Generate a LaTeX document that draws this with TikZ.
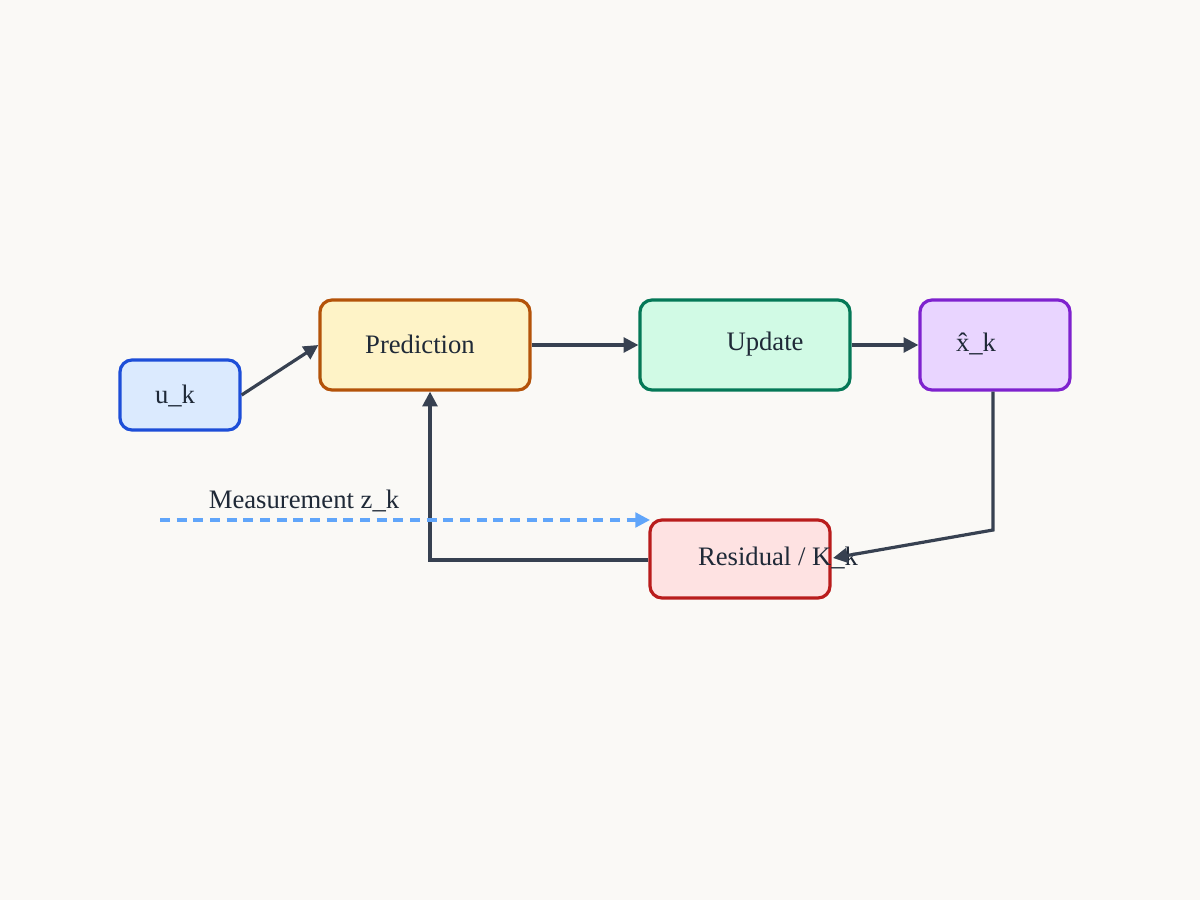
\documentclass[tikz,border=0pt]{standalone}
\usepackage{fontspec}
\setmainfont{Liberation Serif}
\usetikzlibrary{arrows.meta, positioning}
\definecolor{bgcol}{HTML}{FAF9F6}
\definecolor{linecol}{HTML}{374151}
\definecolor{textcol}{HTML}{1F2937}
\definecolor{meascol}{HTML}{60A5FA}
\definecolor{inDraw}{HTML}{1D4ED8}\definecolor{inFill}{HTML}{DBEAFE}
\definecolor{prDraw}{HTML}{B45309}\definecolor{prFill}{HTML}{FEF3C7}
\definecolor{upDraw}{HTML}{047857}\definecolor{upFill}{HTML}{D1FAE5}
\definecolor{esDraw}{HTML}{7E22CE}\definecolor{esFill}{HTML}{E9D5FF}
\definecolor{reDraw}{HTML}{B91C1C}\definecolor{reFill}{HTML}{FEE2E2}
\tikzset{
	box/.style = {rectangle, rounded corners=9pt, line width=2.4pt, inner sep=0pt},
	lbl/.style = {font=\fontsize{20}{24}\selectfont, text=textcol, inner sep=0pt},
	arrow/.style = {line width=2.4pt, draw=linecol, -{Triangle[length=11pt, width=11pt]}},
}
\begin{document}
\begin{tikzpicture}[x=0.75pt, y=-0.75pt]
	\fill[bgcol] (0,0) rectangle (1200,900);
	\useasboundingbox (0,0) rectangle (1200,900);
	% boxes
	\node (Input) [box, draw=inDraw, fill=inFill, minimum width=90pt, minimum height=52.5pt] at (180,395) {};
	\node (Prediction) [box, draw=prDraw, fill=prFill, minimum width=157.5pt, minimum height=67.5pt] at (425,345) {};
	\node (Update) [box, draw=upDraw, fill=upFill, minimum width=157.5pt, minimum height=67.5pt] at (745,345) {};
	\node (Estimate) [box, draw=esDraw, fill=esFill, minimum width=112.5pt, minimum height=67.5pt] at (995,345) {};
	\node (Residual) [box, draw=reDraw, fill=reFill, minimum width=135pt, minimum height=58.5pt] at (740,559) {};
	% texts
	\node (InputText) [lbl] at (175,396) {u\_k};
	\node (PredictionText) [lbl] at (420,344) {Prediction};
	\node (UpdateText) [lbl] at (765,344) {Update};
	\node (EstimateText) [lbl] at (976,344) {\^{x}\_k};
	\node (ResidualText) [lbl] at (778,558) {Residual / K\_k};
	\node (MeasText) [lbl] at (304,501) {Measurement z\_k};
	\coordinate (MeasStart) at (160,520);
	\coordinate (MeasEnd) at (650,520);
	\coordinate (LoopCorner) at (430,560);
	\coordinate (DownCorner) at (993,530);
	% connectors
	\draw [arrow] (Input.east) -- (Prediction.west);
	\draw [arrow] (Prediction.east) -- (Update.west);
	\draw [arrow] (Update.east) -- (Estimate.west);
	\draw [arrow] (Estimate.south -| DownCorner) -- (DownCorner) -- (833,558);
	\draw [arrow] (Residual.west |- LoopCorner) -- (LoopCorner) -- (Prediction.south -| LoopCorner);
	\draw [line width=2.4pt, draw=meascol, dash pattern=on 7.5pt off 5pt, -{Triangle[length=11pt, width=11pt]}] (MeasStart) -- (MeasEnd);
\end{tikzpicture}
\end{document}
